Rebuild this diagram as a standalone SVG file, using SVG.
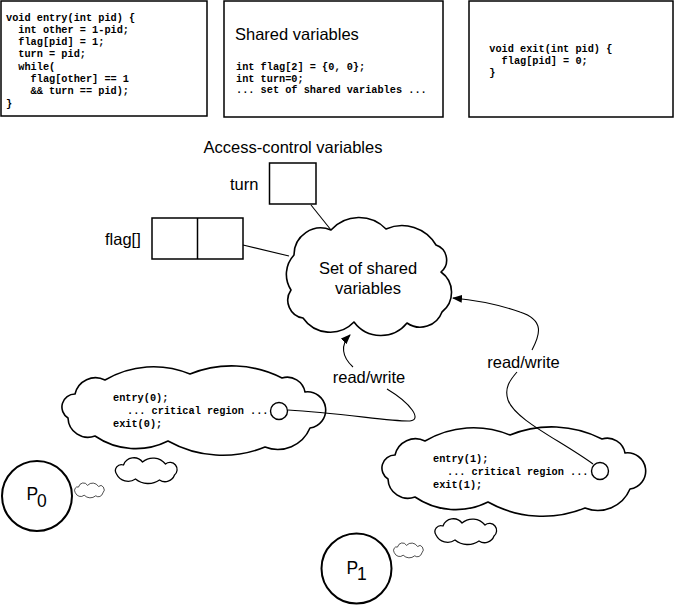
<svg xmlns="http://www.w3.org/2000/svg" xmlns:xlink="http://www.w3.org/1999/xlink" width="675" height="605" viewBox="0 0 675 605">
<style>
.box{fill:#fff;stroke:#000;stroke-width:1.5}
.code{font-family:"Liberation Mono","Courier New",monospace;font-size:10.25px;font-weight:bold;fill:#000}
.lbl{font-family:"Liberation Sans",Arial,sans-serif;font-size:16.5px;fill:#000}
.cloud{fill:#fff;stroke:#000;stroke-width:1.6;stroke-linejoin:round}
.conn{fill:none;stroke:#000;stroke-width:1.1}
.proc{fill:#fff;stroke:#000;stroke-width:2}
.dot{fill:#fff;stroke:#000;stroke-width:1.4}
</style>
<defs>
<marker id="arr" markerWidth="10" markerHeight="8" refX="9" refY="4" orient="auto" markerUnits="userSpaceOnUse">
<path d="M0,0 L10,4 L0,8 Z" fill="#000"/>
</marker>
<path id="thought" d="M 68,418 A 13 13 0 0 1 75,394 A 21 21 0 0 1 105,380 A 95 95 0 0 1 190,374 A 111 111 0 0 1 282,378 A 18 18 0 0 1 305,392 A 18 18 0 0 1 310,428 A 35 35 0 0 1 265,447 A 112 112 0 0 1 168,441 A 72 72 0 0 1 95,436 A 20 20 0 0 1 68,418 Z"/>
<path id="puff" d="M -29,4 A 6 6 0 0 1 -22,-5 A 11 11 0 0 1 -3,-8 A 16 16 0 0 1 20,-6 A 7 7 0 0 1 29,5 A 10 10 0 0 1 14,10 A 20 20 0 0 1 -10,9 A 13 13 0 0 1 -29,4 Z"/>
</defs>

<g id="entry-code">
<rect class="box" x="1" y="1" width="206" height="115"/>
<text class="code" x="6" y="20.5">void entry(int pid) {</text>
<text class="code" x="18.3" y="32.8">int other = 1-pid;</text>
<text class="code" x="18.3" y="45.1">flag[pid] = 1;</text>
<text class="code" x="18.3" y="57.4">turn = pid;</text>
<text class="code" x="18.3" y="69.7">while(</text>
<text class="code" x="30.6" y="82">flag[other] == 1</text>
<text class="code" x="30.6" y="94.3">&amp;&amp; turn == pid);</text>
<text class="code" x="6" y="106.6">}</text>
</g>

<g id="shared-code">
<rect class="box" x="224" y="1" width="219" height="116"/>
<text class="lbl" x="235" y="39.5">Shared variables</text>
<text class="code" x="236" y="70">int flag[2] = {0, 0};</text>
<text class="code" x="236" y="81.5">int turn=0;</text>
<text class="code" x="236" y="93">... set of shared variables ...</text>
</g>

<g id="exit-code">
<rect class="box" x="469" y="1" width="204" height="116"/>
<text class="code" x="489.3" y="52">void exit(int pid) {</text>
<text class="code" x="501.6" y="64">flag[pid] = 0;</text>
<text class="code" x="489.3" y="75.5">}</text>
</g>

<g id="access-title">
<text class="lbl" x="293" y="153" text-anchor="middle">Access-control variables</text>
</g>

<g id="turn">
<text class="lbl" x="230" y="190">turn</text>
<rect class="box" x="269.5" y="163" width="46.5" height="41"/>
</g>

<g id="flag">
<text class="lbl" x="105" y="245">flag[]</text>
<rect class="box" x="152" y="218" width="91" height="41"/>
<line class="box" x1="197.5" y1="218" x2="197.5" y2="259"/>
</g>

<g id="shared-cloud">
<path class="cloud" d="M 291,290 A 28.5 28.5 0 0 1 294,255 A 26.8 26.8 0 0 1 331,230 A 37.5 37.5 0 0 1 386,229 A 39.5 39.5 0 0 1 436,245 A 15.8 15.8 0 0 1 441,272 A 25 25 0 0 1 442,312 A 23.2 23.2 0 0 1 407,323 A 33.5 33.5 0 0 1 354,322 A 33 33 0 0 1 303,318 A 18 18 0 0 1 291,290 Z"/>
<text class="lbl" x="368" y="273.5" text-anchor="middle">Set of shared</text>
<text class="lbl" x="368" y="293.5" text-anchor="middle">variables</text>
</g>

<g id="rw-label-0">
<text class="lbl" x="369" y="383" text-anchor="middle">read/write</text>
</g>
<g id="rw-label-1">
<text class="lbl" x="523.5" y="368" text-anchor="middle">read/write</text>
</g>

<g id="thought-0">
<use xlink:href="#thought" class="cloud"/>
<text class="code" x="113" y="401">entry(0);</text>
<text class="code" x="127" y="414">... critical region ...</text>
<text class="code" x="113" y="426.5">exit(0);</text>
</g>

<g id="thought-1">
<use xlink:href="#thought" class="cloud" transform="translate(320,61)"/>
<text class="code" x="433" y="462">entry(1);</text>
<text class="code" x="447" y="475">... critical region ...</text>
<text class="code" x="433" y="487.5">exit(1);</text>
</g>

<g id="puffs-0">
<use xlink:href="#puff" class="cloud" style="stroke-width:1.3" transform="translate(145.5,470)"/>
<use xlink:href="#puff" class="cloud" style="stroke-width:1.3;vector-effect:non-scaling-stroke" transform="translate(89,490) scale(0.48,0.58)"/>
</g>
<g id="puffs-1">
<use xlink:href="#puff" class="cloud" style="stroke-width:1.3" transform="translate(465,531)"/>
<use xlink:href="#puff" class="cloud" style="stroke-width:1.3;vector-effect:non-scaling-stroke" transform="translate(408,550) scale(0.48,0.58)"/>
</g>

<g id="P0">
<circle class="proc" cx="37" cy="496" r="35"/>
<text class="lbl" style="font-size:17.5px" x="26.5" y="499.5">P</text>
<text class="lbl" style="font-size:17.5px" x="37" y="506.5">0</text>
</g>

<g id="P1">
<circle class="proc" cx="356.5" cy="568.5" r="35"/>
<text class="lbl" style="font-size:17.5px" x="346.5" y="574">P</text>
<text class="lbl" style="font-size:17.5px" x="357" y="580">1</text>
</g>

<g id="connectors">
<line class="conn" x1="311" y1="205" x2="331" y2="230"/>
<line class="conn" x1="243" y1="245" x2="289" y2="256"/>
<path class="conn" d="M288,410 C340,413 395,422 410,421 C422,420 412,404 387,389"/>
<path class="conn" d="M353,367 C342,357 340,345 350,335" marker-end="url(#arr)"/>
<path class="conn" d="M593,464 C560,440 515,420 508,400 C504,388 510,380 517,372"/>
<path class="conn" d="M532,350 C540,335 545,320 520,312 C500,305 475,300 453,298" marker-end="url(#arr)"/>
<circle class="dot" cx="279" cy="411" r="8.5"/>
<circle class="dot" cx="600" cy="471" r="8.5"/>
</g>
</svg>
